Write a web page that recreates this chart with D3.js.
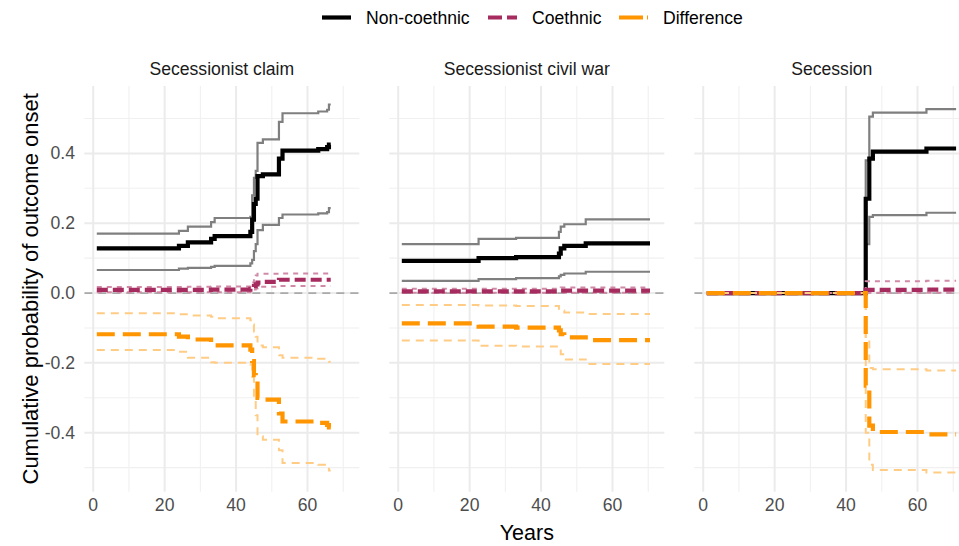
<!DOCTYPE html>
<html><head><meta charset="utf-8">
<script src="https://cdn.jsdelivr.net/npm/d3@7"></script>
<style>body{margin:0;background:#fff} svg{display:block;font-family:"Liberation Sans",Arial,Helvetica,sans-serif}</style>
</head><body><svg id="c" width="959" height="546"></svg>
<script>
// ---------------- data ----------------
const panelTitles = ["Secessionist claim", "Secessionist civil war", "Secession"];
const seriesNames = ["Non-coethnic", "Coethnic", "Difference"];
const xTicks = [0, 20, 40, 60];
const xMinor = [10, 30, 50, 70];
const yTicks = [-0.4, -0.2, 0.0, 0.2, 0.4];
const yTickLabels = ["-0.4", "-0.2", "0.0", "0.2", "0.4"];
const yMinor = [-0.5, -0.3, -0.1, 0.1, 0.3, 0.5];

// Panel 1: Secessionist claim
const claimYears   = [1, 24, 26.5, 33, 34, 44, 44.5, 45, 45.5, 46, 47.5, 52, 53, 63, 65.5, 66, 66.5];
const claimNon     = [0.128, 0.135, 0.145, 0.155, 0.163, 0.175, 0.21, 0.255, 0.27, 0.335, 0.34, 0.385, 0.408, 0.412, 0.418, 0.425, 0.425];
const claimNonHi   = [0.17, 0.178, 0.19, 0.203, 0.215, 0.218, 0.28, 0.33, 0.35, 0.43, 0.44, 0.49, 0.515, 0.52, 0.525, 0.54, 0.54];
const claimNonLo   = [0.066, 0.07, 0.072, 0.075, 0.078, 0.085, 0.095, 0.12, 0.14, 0.18, 0.195, 0.215, 0.225, 0.228, 0.232, 0.243, 0.243];
const claimCo      = [0.009, 0.009, 0.009, 0.01, 0.01, 0.012, 0.016, 0.02, 0.025, 0.03, 0.032, 0.038, 0.038, 0.038, 0.038, 0.038, 0.038];
const claimCoHi    = [0.017, 0.017, 0.018, 0.019, 0.019, 0.022, 0.03, 0.045, 0.05, 0.055, 0.055, 0.056, 0.056, 0.056, 0.056, 0.056, 0.056];
const claimCoLo    = [0.002, 0.002, 0.002, 0.002, 0.002, 0.003, 0.005, 0.01, 0.013, 0.018, 0.018, 0.02, 0.02, 0.02, 0.02, 0.02, 0.02];
const claimDiff    = [-0.118, -0.125, -0.133, -0.143, -0.15, -0.162, -0.195, -0.235, -0.25, -0.3, -0.305, -0.345, -0.368, -0.372, -0.378, -0.385, -0.385];
const claimDiffHi  = [-0.058, -0.061, -0.064, -0.068, -0.072, -0.078, -0.09, -0.11, -0.125, -0.15, -0.155, -0.178, -0.185, -0.188, -0.192, -0.197, -0.197];
const claimDiffLo  = [-0.163, -0.168, -0.185, -0.198, -0.2, -0.205, -0.24, -0.3, -0.35, -0.41, -0.42, -0.45, -0.487, -0.492, -0.5, -0.508, -0.508];

// Panel 2: Secessionist civil war
const warYears   = [1, 22.5, 33, 45, 45.5, 46.5, 52.5, 70.5];
const warNon     = [0.092, 0.1, 0.103, 0.113, 0.128, 0.135, 0.142, 0.142];
const warNonHi   = [0.14, 0.155, 0.158, 0.175, 0.19, 0.197, 0.211, 0.211];
const warNonLo   = [0.035, 0.04, 0.043, 0.048, 0.052, 0.056, 0.061, 0.061];
const warCo      = [0.005, 0.005, 0.005, 0.006, 0.007, 0.007, 0.007, 0.007];
const warCoHi    = [0.012, 0.012, 0.012, 0.014, 0.016, 0.016, 0.016, 0.016];
const warCoLo    = [0.001, 0.001, 0.001, 0.001, 0.001, 0.001, 0.001, 0.001];
const warDiff    = [-0.087, -0.096, -0.099, -0.107, -0.118, -0.127, -0.135, -0.135];
const warDiffHi  = [-0.034, -0.036, -0.037, -0.045, -0.05, -0.056, -0.06, -0.06];
const warDiffLo  = [-0.136, -0.151, -0.153, -0.16, -0.175, -0.19, -0.203, -0.203];

// Panel 3: Secession
const secYears   = [1, 45.5, 46.5, 47.5, 62.5, 70.8];
const secNon     = [0, 0.27, 0.385, 0.405, 0.414, 0.414];
const secNonHi   = [0, 0.38, 0.505, 0.517, 0.527, 0.527];
const secNonLo   = [0, 0.14, 0.218, 0.223, 0.23, 0.23];
const secCo      = [0, 0.009, 0.009, 0.009, 0.01, 0.01];
const secCoHi    = [0, 0.034, 0.034, 0.034, 0.035, 0.035];
const secCoLo    = [0, 0.001, 0.001, 0.001, 0.001, 0.001];
const secDiff    = [0, -0.265, -0.38, -0.398, -0.405, -0.405];
const secDiffHi  = [0, -0.135, -0.215, -0.218, -0.222, -0.222];
const secDiffLo  = [0, -0.4, -0.492, -0.507, -0.514, -0.514];

const panelData = [
  {years: claimYears, non: claimNon, nonHi: claimNonHi, nonLo: claimNonLo, co: claimCo, coHi: claimCoHi, coLo: claimCoLo, diff: claimDiff, diffHi: claimDiffHi, diffLo: claimDiffLo},
  {years: warYears, non: warNon, nonHi: warNonHi, nonLo: warNonLo, co: warCo, coHi: warCoHi, coLo: warCoLo, diff: warDiff, diffHi: warDiffHi, diffLo: warDiffLo},
  {years: secYears, non: secNon, nonHi: secNonHi, nonLo: secNonLo, co: secCo, coHi: secCoHi, coLo: secCoLo, diff: secDiff, diffHi: secDiffHi, diffLo: secDiffLo}
];

// ---------------- styles ----------------
const COL_NON = "#000000", COL_NON_CI = "#7f7f7f";
const COL_CO = "#a62b5e", COL_CO_CI = "#d08aa7";
const COL_DIFF = "#ff9500", COL_DIFF_CI = "#ffcc85";

const layers = [
  {key: "nonHi", color: COL_NON_CI, w: 2.2, dash: null},
  {key: "nonLo", color: COL_NON_CI, w: 2.2, dash: null},
  {key: "non", color: COL_NON, w: 4.2, dash: null},
  {key: "coHi", color: COL_CO_CI, w: 2, dash: "5,5"},
  {key: "coLo", color: COL_CO_CI, w: 2, dash: "5,5"},
  {key: "co", color: COL_CO, w: 4.2, dash: "11,5"},
  {key: "diffHi", color: COL_DIFF_CI, w: 2, dash: "8,6"},
  {key: "diffLo", color: COL_DIFF_CI, w: 2, dash: "8,6"},
  {key: "diff", color: COL_DIFF, w: 4.2, dash: "18,8"}
];

// ---------------- layout ----------------
const svg = d3.select("#c");
const panelLeft0 = 84.3, panelW = 275, panelStep = 305;
const panelTop = 86, panelBottom = 491.7;
const y = d3.scaleLinear().domain([-0.569, 0.593]).range([panelBottom, panelTop]);

panelData.forEach((pd, i) => {
  const left = panelLeft0 + i * panelStep;
  const x = d3.scaleLinear().domain([-2.5, 74.5]).range([left, left + panelW]);
  const g = svg.append("g");
  const clipId = "clip" + i;
  svg.append("clipPath").attr("id", clipId).append("rect")
    .attr("x", left).attr("y", panelTop).attr("width", panelW).attr("height", panelBottom - panelTop);

  // grid
  const grid = g.append("g");
  grid.selectAll(".ymin").data(yMinor).join("line")
    .attr("x1", left).attr("x2", left + panelW).attr("y1", d => y(d)).attr("y2", d => y(d))
    .attr("stroke", "#f0f0f0").attr("stroke-width", 1.1);
  grid.selectAll(".xmin").data(xMinor).join("line")
    .attr("x1", d => x(d)).attr("x2", d => x(d)).attr("y1", panelTop).attr("y2", panelBottom)
    .attr("stroke", "#f0f0f0").attr("stroke-width", 1.1);
  grid.selectAll(".ymaj").data(yTicks).join("line")
    .attr("x1", left).attr("x2", left + panelW).attr("y1", d => y(d)).attr("y2", d => y(d))
    .attr("stroke", "#ebebeb").attr("stroke-width", 2);
  grid.selectAll(".xmaj").data(xTicks).join("line")
    .attr("x1", d => x(d)).attr("x2", d => x(d)).attr("y1", panelTop).attr("y2", panelBottom)
    .attr("stroke", "#ebebeb").attr("stroke-width", 2);

  const dl = g.append("g").attr("clip-path", `url(#${clipId})`);
  // zero reference line (beneath the data)
  dl.append("line").attr("x1", left).attr("x2", left + panelW)
    .attr("y1", y(0)).attr("y2", y(0))
    .attr("stroke", "#aaaaaa").attr("stroke-width", 1.8).attr("stroke-dasharray", "8,6");

  // data lines
  const line = d3.line().x(d => x(d[0])).y(d => y(d[1])).curve(d3.curveStepAfter);
  layers.forEach(L => {
    const pts = pd.years.map((t, k) => [t, pd[L.key][k]]);
    dl.append("path").attr("d", line(pts)).attr("fill", "none")
      .attr("stroke", L.color).attr("stroke-width", L.w)
      .attr("stroke-dasharray", L.dash).attr("stroke-linejoin", "miter");
  });

  // x tick labels
  g.selectAll(".xt").data(xTicks).join("text")
    .attr("x", d => x(d)).attr("y", 511).attr("text-anchor", "middle")
    .attr("font-size", 17.6).attr("fill", "#4d4d4d").text(d => d);

  // strip title
  g.append("text").attr("x", left + panelW / 2).attr("y", 75).attr("text-anchor", "middle")
    .attr("font-size", 17.6).attr("fill", "#1a1a1a").text(panelTitles[i]);
});

// y tick labels
svg.selectAll(".yt").data(yTicks).join("text")
  .attr("x", 75).attr("y", d => y(d) + 6).attr("text-anchor", "end")
  .attr("font-size", 17.6).attr("fill", "#4d4d4d").text((d, i) => yTickLabels[i]);

// axis titles
svg.append("text").attr("x", panelLeft0 + (2 * panelStep + panelW) / 2).attr("y", 540)
  .attr("text-anchor", "middle").attr("font-size", 21.5).attr("fill", "#000").text("Years");
svg.append("text").attr("transform", `translate(38,${(panelTop + panelBottom) / 2}) rotate(-90)`)
  .attr("text-anchor", "middle").attr("font-size", 22).attr("fill", "#000")
  .text("Cumulative probability of outcome onset");

// legend
const legendItems = [
  {name: seriesNames[0], color: COL_NON, dash: null, kx: 322, tx: 366},
  {name: seriesNames[1], color: COL_CO, dash: "14,5", kx: 488, tx: 532},
  {name: seriesNames[2], color: COL_DIFF, dash: "24,4", kx: 619, tx: 663}
];
const lg = svg.append("g");
legendItems.forEach(it => {
  lg.append("line").attr("x1", it.kx).attr("x2", it.kx + 29).attr("y1", 17.5).attr("y2", 17.5)
    .attr("stroke", it.color).attr("stroke-width", 4.2).attr("stroke-dasharray", it.dash);
  lg.append("text").attr("x", it.tx).attr("y", 24).attr("font-size", 17.6).attr("fill", "#000").text(it.name);
});
</script></body></html>
